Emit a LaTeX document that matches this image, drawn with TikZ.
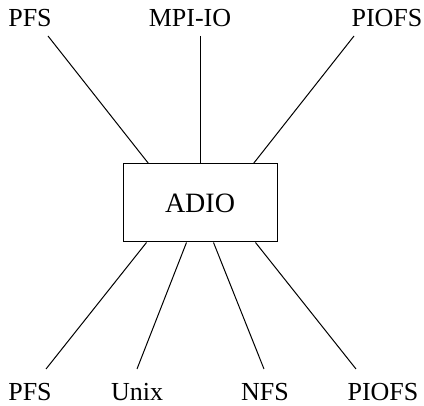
\documentclass[tikz,border=0pt]{standalone}
\usepackage{fontspec}
\setmainfont{Liberation Serif}
\begin{document}
\begin{tikzpicture}[x=1pt,y=-1pt,
  lbl/.style={inner sep=0pt,font=\fontsize{26}{30}\selectfont},
  conn/.style={line width=1pt}]
\useasboundingbox (0,0) rectangle (424,406);
\node[draw,line width=1pt,minimum width=154pt,minimum height=78pt,inner sep=0pt,font=\fontsize{28}{32}\selectfont] (adio) at (200,203) {ADIO};
\node[lbl] (tpfs) at (30,18) {PFS};
\node[lbl] (tmpi) at (190,18) {MPI-IO};
\node[lbl] (tpiofs) at (387,18) {PIOFS};
\node[lbl] (bpfs) at (30,392) {PFS};
\node[lbl] (bunix) at (137,392) {Unix};
\node[lbl] (bnfs) at (265,392) {NFS};
\node[lbl] (bpiofs) at (383,392) {PIOFS};
\coordinate (t1) at (48,36);
\coordinate (t2) at (200,36);
\coordinate (t3) at (354,36);
\coordinate (b1) at (46,369);
\coordinate (b2) at (137,369);
\coordinate (b3) at (264,369);
\coordinate (b4) at (356,369);
\draw[conn] (t1) -- ([xshift=26pt]adio.north west);
\draw[conn] (t2) -- (adio.north);
\draw[conn] (t3) -- ([xshift=-24pt]adio.north east);
\draw[conn] (b1) -- ([xshift=24pt]adio.south west);
\draw[conn] (b2) -- ([xshift=64pt]adio.south west);
\draw[conn] (b3) -- ([xshift=-64pt]adio.south east);
\draw[conn] (b4) -- ([xshift=-22pt]adio.south east);
\end{tikzpicture}
\end{document}
